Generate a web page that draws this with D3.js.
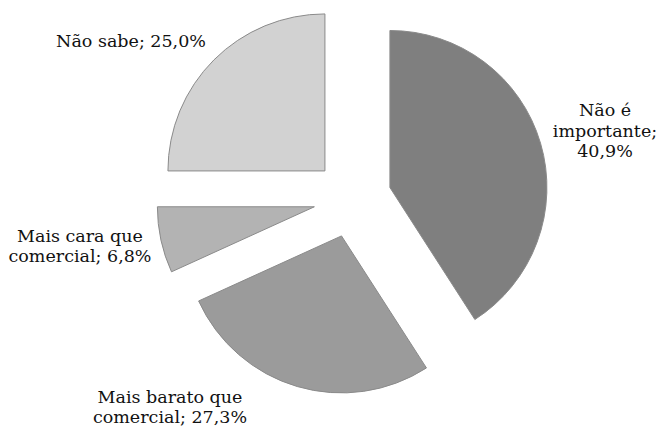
<!DOCTYPE html>
<html><head><meta charset="utf-8">
<script src="https://cdn.jsdelivr.net/npm/d3@7"></script>
<style>html,body{margin:0;padding:0;background:#fff}</style>
</head><body>
<svg id="chart" width="659" height="427"></svg>
<script>
const categories = ["Não é importante", "Mais barato que comercial", "Mais cara que comercial", "Não sabe"];
const values = [40.9, 27.3, 6.8, 25.0];
const labelLines = [["Não é", "importante;", "40,9%"], ["Mais barato que", "comercial; 27,3%"], ["Mais cara que", "comercial; 6,8%"], ["Não sabe; 25,0%"]];
const colors = ["#7f7f7f", "#9b9b9b", "#b3b3b3", "#d2d2d2"];
const labelPos = [[605, 116], [170, 402.5], [80, 241.5], [131, 46.5]];

const svg = d3.select("#chart");
const cx = 352.5, cy = 198.5, r = 157, explode = 39;
const pie = d3.pie().sort(null).value(d => d)(values);
const arc = d3.arc().innerRadius(0).outerRadius(r);
const g = svg.append("g").attr("transform", `translate(${cx},${cy})`);
g.selectAll("path").data(pie).join("path")
  .attr("d", arc)
  .attr("transform", d => { const a = (d.startAngle + d.endAngle) / 2; return `translate(${explode*Math.sin(a)},${-explode*Math.cos(a)})`; })
  .attr("fill", (d, i) => colors[i])
  .attr("stroke", "#8a8a8a").attr("stroke-width", 1);

labelLines.forEach((lines, i) => {
  const t = svg.append("text").attr("x", labelPos[i][0]).attr("y", labelPos[i][1])
    .attr("text-anchor", "middle").attr("font-family", "DejaVu Serif").attr("font-size", 17.5).attr("fill", "#111");
  lines.forEach((l, j) => t.append("tspan").attr("x", labelPos[i][0]).attr("dy", j ? 20.5 : 0).text(l));
});
</script>
</body></html>
